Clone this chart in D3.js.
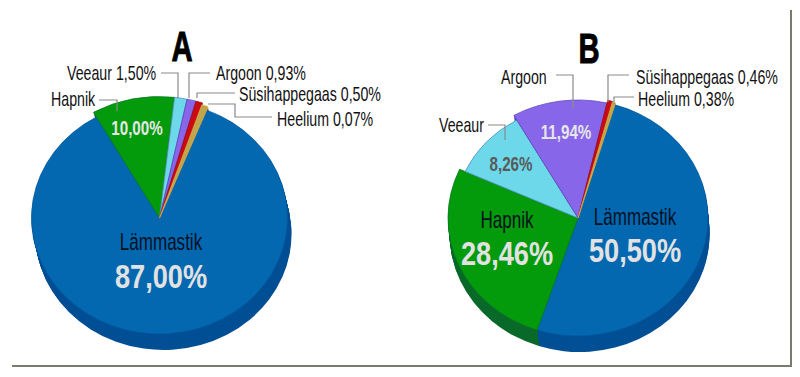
<!DOCTYPE html>
<html>
<head>
<meta charset="utf-8">
<style>
  html, body { margin: 0; background: #fff; }
  svg { display: block; }
  text { font-family: "Liberation Sans", sans-serif; }
</style>
</head>
<body>
<div id="chart"></div>
<script src="https://cdn.jsdelivr.net/npm/d3@7"></script>
<script>
// Gases, clockwise, starting from Lämmastik
const gases = ['Lämmastik', 'Hapnik', 'Veeaur', 'Argoon', 'Süsihappegaas', 'Heelium'];

// printed percentages
const sharesA = [87.00, 10.00, 1.50, 0.93, 0.50, 0.07];
const sharesB = [50.50, 28.46, 8.26, 11.94, 0.46, 0.38];

// wedge widths as they look in the picture, they differ a bit from the printed numbers
const drawnA = [85.8, 10.0, 1.5, 1.1, 0.8, 0.8];
const drawnB = [50.5, 26.7, 10.0, 11.8, 0.6, 0.4];

const fills = ['#0468b1', '#039a0b', '#6cd8ea', '#8766ea', '#cc0a14', '#c0a54c'];
const edges = ['#03569a', '#0b7a26', '#5b8fc0', '#5a46b8', '#a00a14', '#e0b040'];
const sides = ['#024f95', '#0a6a2a', '#4aa0b8', '#5a46b8', '#8a0a10', '#8a7430'];

const W = 800, H = 377;
const fmt = v => v.toFixed(2).replace('.', ',') + '%';

const svg = d3.select('#chart').append('svg')
  .attr('width', W).attr('height', H)
  .attr('viewBox', `0 0 ${W} ${H}`);

// frame, only bottom and right are drawn
svg.append('path')
  .attr('d', 'M12,366H791V10')
  .attr('fill', 'none')
  .attr('stroke', '#7b7b6d')
  .attr('stroke-width', 2);

// no condensed font installed, so squeeze horizontally
function label(x, y, str, size, color, anchor, weight, squeeze) {
  const sx = squeeze || (weight === 700 ? 0.76 : 0.71);
  return svg.append('text')
    .attr('transform', `translate(${x},${y}) scale(${sx},1)`)
    .attr('text-anchor', anchor || 'start')
    .attr('font-size', size)
    .attr('font-weight', weight || 400)
    .attr('fill', color || '#111')
    .text(str);
}

function title(x, y, str) {
  label(x, y, str, 43, '#000', 'middle', 700, 0.68)
    .attr('stroke', '#000')
    .attr('stroke-width', 1);
}

function leader(points) {
  svg.append('path')
    .attr('d', d3.line()(points))
    .attr('fill', 'none')
    .attr('stroke', '#8a8a8a')
    .attr('stroke-width', 1.2);
}

function drawPie(opts) {
  const pie = d3.pie().sort(null)
    .startAngle(opts.start)
    .endAngle(opts.start + 2 * Math.PI)
    .value(d => d);
  const arcs = pie(opts.values);
  const arc = d3.arc().innerRadius(0)
    .outerRadius(d => opts.radius + (opts.pull[d.index] || 0));

  const tilt = opts.ry / opts.radius;
  const g = svg.append('g')
    .attr('transform', `translate(${opts.cx},${opts.cy}) scale(1,${tilt})`);

  // side wall: the same wedges stacked downwards
  const layers = d3.range(opts.depth, 0, -1);
  layers.forEach(k => {
    g.append('g')
      .attr('transform', `translate(${k * opts.shift},${k / tilt})`)
      .selectAll('path').data(arcs).join('path')
      .attr('d', arc)
      .attr('fill', d => sides[d.index]);
  });

  g.append('g').selectAll('path').data(arcs).join('path')
    .attr('d', arc)
    .attr('fill', d => fills[d.index])
    .attr('stroke', d => edges[d.index])
    .attr('stroke-width', 0.8);
}

drawPie({
  values: drawnA, cx: 159.5, cy: 218, radius: 128, ry: 116, depth: 16, shift: 0.25,
  start: 21.6 * Math.PI / 180, pull: { 1: 6, 2: 6, 3: 6, 4: 6, 5: 4 }
});
drawPie({
  values: drawnB, cx: 578, cy: 218, radius: 130, ry: 118, depth: 16, shift: 0.1,
  start: 16.5 * Math.PI / 180, pull: { 2: -6, 3: 0, 4: 3, 5: 2 }
});

// Pie A texts
title(182, 61, 'A');
leader([[161, 73], [178, 73], [178, 98]]);
leader([[210, 73], [189, 73], [189, 98]]);
leader([[235, 93], [197, 93], [197, 98]]);
leader([[272, 117], [235, 117], [235, 104], [208, 104]]);
leader([[99, 100], [117, 100], [117, 111]]);
label(67, 80, `${gases[2]} ${fmt(sharesA[2])}`, 20);
label(216, 80, `${gases[3]} ${fmt(sharesA[3])}`, 20);
label(239, 101, `${gases[4]} ${fmt(sharesA[4])}`, 20);
label(277, 126, `${gases[5]} ${fmt(sharesA[5])}`, 20);
label(51, 106, gases[1], 20);
label(137, 135, fmt(sharesA[1]), 20, '#e6e6e6', 'middle', 700);
label(161, 250, gases[0], 24, '#03101f', 'middle');
label(161, 288, fmt(sharesA[0]), 34, '#e2e2e2', 'middle', 700, 0.8);

// Pie B texts
title(589, 63, 'B');
leader([[556, 75], [573, 75], [573, 109]]);
leader([[629, 75], [608, 75], [608, 102]]);
leader([[634, 97], [614, 97], [614, 104]]);
leader([[488, 125], [505, 125], [505, 140]]);
label(501, 84, gases[3], 20);
label(636, 84, `${gases[4]} ${fmt(sharesB[4])}`, 20);
label(638, 106, `${gases[5]} ${fmt(sharesB[5])}`, 20);
label(439, 132, gases[2], 20);
label(566, 139, fmt(sharesB[3]), 20, '#e6e6e6', 'middle', 700);
label(511, 171, fmt(sharesB[2]), 20, '#5a5a5a', 'middle', 700);
label(507, 228, gases[1], 24, '#03101f', 'middle');
label(507, 265, fmt(sharesB[1]), 34, '#e2e2e2', 'middle', 700, 0.8);
label(635, 225, gases[0], 24, '#03101f', 'middle');
label(635, 262, fmt(sharesB[0]), 34, '#e2e2e2', 'middle', 700, 0.8);
</script>
</body>
</html>
